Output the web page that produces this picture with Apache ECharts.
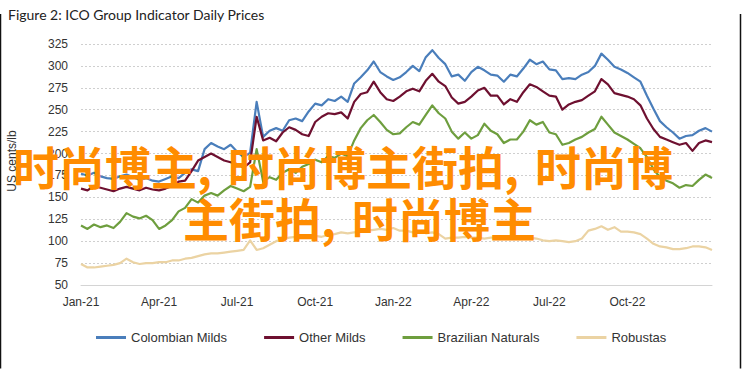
<!DOCTYPE html>
<html>
<head>
<meta charset="utf-8">
<script src="https://cdn.jsdelivr.net/npm/echarts@6/dist/echarts.min.js"></script>
<style>
html,body{margin:0;padding:0;background:#fff;}
#chart{width:742px;height:369px;}
</style>
</head>
<body>
<div id="chart"></div>
<script>
// Weekly readings (quarter-month steps) from Jan-21 onwards, US cents/lb
const tickLabels = ['Jan-21','Apr-21','Jul-21','Oct-21','Jan-22','Apr-22','Jul-22','Oct-22'];
const seriesNames = ['Colombian Milds','Other Milds','Brazilian Naturals','Robustas'];

const colombianMilds = [177,175,178,174,172,171,174,176,173,170,172,169,168,171,174,172,178,182,180,205,212,208,205,210,202,196,201,259,219,226,229,226,238,240,237,248,257,255,262,260,265,259,280,287,295,305,293,288,284,287,293,300,294,310,318,309,302,288,290,283,293,299,295,290,289,282,290,288,297,307,302,305,296,295,285,286,285,290,293,300,314,307,299,296,292,287,282,266,251,237,230,224,217,220,221,226,229,225];
const otherMilds = [160,158,163,161,159,157,160,162,160,158,161,159,158,160,163,168,169,180,192,196,200,196,192,190,188,184,190,242,215,218,214,224,230,227,222,220,236,242,246,245,247,240,259,268,270,282,270,262,260,265,271,274,271,283,291,282,277,264,257,259,265,272,275,266,266,256,262,259,270,279,276,271,266,265,250,256,259,261,266,271,285,279,269,267,265,262,255,240,228,219,216,213,210,212,203,212,215,213];
const brazilianNaturals = [118,114,119,116,118,115,122,132,128,126,129,124,114,118,124,134,138,148,144,152,155,152,158,163,160,157,162,205,168,173,170,178,182,178,185,188,193,190,197,195,200,197,215,229,238,244,236,227,222,223,230,236,233,244,255,246,240,225,217,224,217,221,234,226,222,212,216,216,225,238,233,236,224,222,210,212,216,219,224,228,242,233,224,220,216,211,206,196,182,173,169,166,161,164,163,170,176,172];
const robustas = [74,70,70,71,72,73,75,80,76,74,75,75,76,76,78,78,80,81,83,85,86,86,87,88,89,90,101,90,92,96,100,102,104,105,106,106,106,105,107,108,110,109,110,111,112,113,114,113,115,112,112,110,111,109,110,108,103,104,104,105,104,104,103,104,104,105,104,103,104,104,103,101,100,101,100,99,100,103,112,114,117,113,116,111,111,110,108,103,97,94,93,91,91,92,94,94,93,90];

const seriesValues = [colombianMilds, otherMilds, brazilianNaturals, robustas];
const colors = ['#4A7EBB', '#6E1030', '#6E9E3E', '#EBD3A3'];

const chart = echarts.init(document.getElementById('chart'), null, {renderer: 'svg'});
const pairs = vals => vals.map((v, i) => [i * 0.25, v]);

const fontAxis = "'Liberation Sans', Arial, sans-serif";
const wmFont = "'Noto Sans CJK SC', sans-serif";

chart.setOption({
  animation: false,
  backgroundColor: '#ffffff',
  title: {
    text: 'Figure 2: ICO Group Indicator Daily Prices',
    left: 3, top: 2,
    textStyle: {fontFamily: "Lato, 'Liberation Sans', sans-serif", fontSize: 14, fontWeight: 'normal', color: '#222'}
  },
  grid: {left: 81, right: 30, top: 44, bottom: 84},
  legend: {
    left: 91, top: 326, itemGap: 37,
    itemWidth: 30, itemHeight: 3, icon: 'rect',
    textStyle: {fontFamily: fontAxis, fontSize: 13, color: '#333'},
    data: seriesNames
  },
  xAxis: {
    type: 'value', min: 0, max: 24.25, interval: 3,
    axisLine: {show: true, lineStyle: {color: '#d4d4d4', width: 1}},
    axisTick: {show: false},
    splitLine: {show: false},
    axisLabel: {
      margin: 11, showMaxLabel: false,
      fontFamily: fontAxis, fontSize: 12, color: '#333',
      formatter: v => tickLabels[Math.round(v / 3)] || ''
    }
  },
  yAxis: {
    type: 'value', min: 50, max: 325, interval: 25,
    axisLine: {show: false}, axisTick: {show: false},
    axisLabel: {margin: 13, fontFamily: fontAxis, fontSize: 12, color: '#333'},
    splitLine: {show: true, lineStyle: {color: '#cfcfcf', type: [2, 2], width: 1}}
  },
  series: seriesNames.map((name, k) => ({
    name, type: 'line', data: pairs(seriesValues[k]),
    symbol: 'none', showSymbol: false,
    emphasis: {disabled: true},
    lineStyle: {color: colors[k], width: 2.2, join: 'round', type: 'solid', opacity: 1},
    itemStyle: {color: colors[k]},
    z: 2 + k
  })),
  graphic: [
    {type: 'line', shape: {x1: 0.5, y1: 14, x2: 0.5, y2: 368.5}, style: {stroke: '#111', lineWidth: 1.5}, z: 50},
    {type: 'line', shape: {x1: 740.5, y1: 14, x2: 740.5, y2: 368.5}, style: {stroke: '#111', lineWidth: 1.5}, z: 50},
    {type: 'text', x: 12, y: 161, rotation: Math.PI / 2,
      style: {text: 'US cents/lb', fontFamily: fontAxis, fontSize: 12, fill: '#333', align: 'center', verticalAlign: 'middle'}, z: 50},
    {type: 'text', x: 13, y: 165, z: 100,
      style: {
        text: '时尚博主{c|,}时尚博主街拍{c|,}时尚博',
        fontFamily: wmFont, fontSize: 46, fontWeight: 'bold', fill: '#FF8C00',
        verticalAlign: 'middle', align: 'left',
        rich: {c: {width: 31, fontFamily: wmFont, fontSize: 46, fontWeight: 'bold', fill: '#FF8C00'}}
      }},
    {type: 'text', x: 183, y: 217, z: 100,
      style: {
        text: '主街拍{c|,}时尚博主',
        fontFamily: wmFont, fontSize: 46, fontWeight: 'bold', fill: '#FF8C00',
        verticalAlign: 'middle', align: 'left',
        rich: {c: {width: 31, fontFamily: wmFont, fontSize: 46, fontWeight: 'bold', fill: '#FF8C00'}}
      }}
  ]
});
</script>
</body>
</html>
